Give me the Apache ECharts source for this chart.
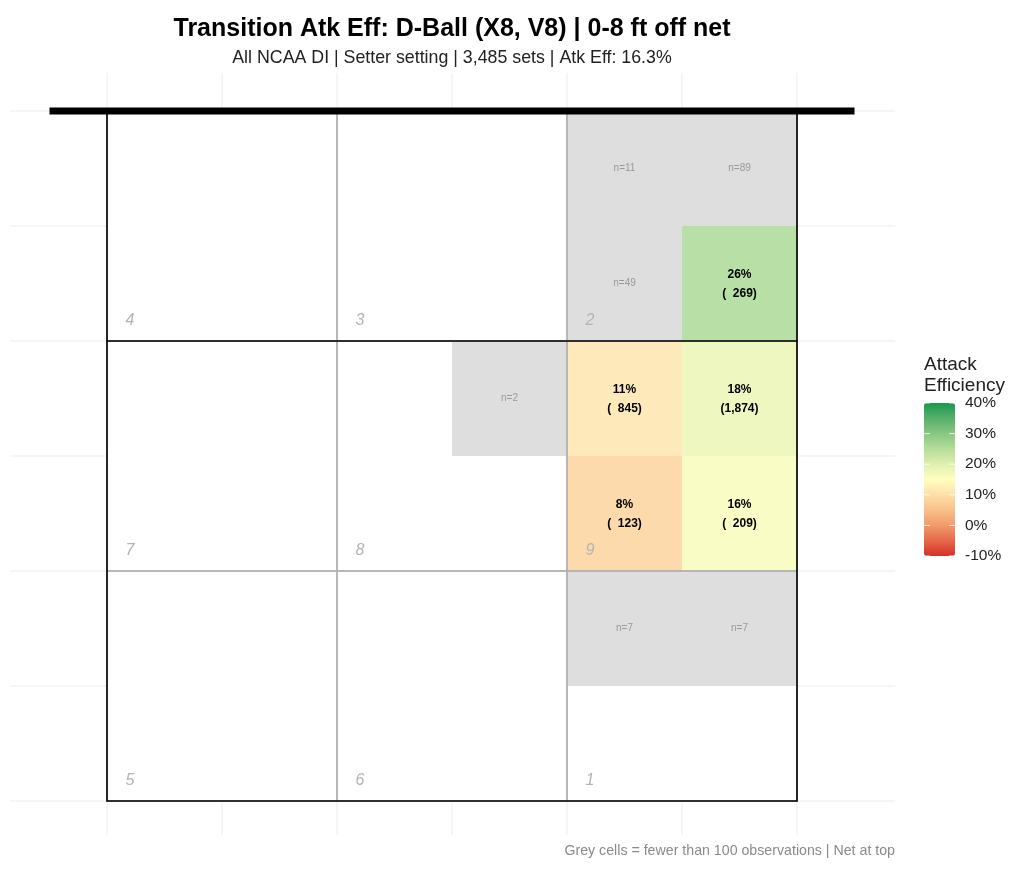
<!DOCTYPE html>
<html>
<head>
<meta charset="utf-8">
<script src="https://cdn.jsdelivr.net/npm/echarts@6/dist/echarts.min.js"></script>
<style>
  html, body { margin: 0; padding: 0; background: #fff; }
  #chart { width: 1024px; height: 875px; }
</style>
</head>
<body>
<div id="chart"></div>
<script>
// court = 6 x 6 cells, row 0 is at the net
const cellCol = [4, 5, 4, 5, 3, 4, 5, 4, 5, 4, 5];
const cellRow = [0, 0, 1, 1, 2, 2, 2, 3, 3, 4, 4];
const cellEff = [null, null, null, 26, null, 11, 18, 8, 16, null, null]; // %
const cellN = [11, 89, 49, 269, 2, 845, 1874, 123, 209, 7, 7];
const minN = 100;

const zoneNames = ['4', '3', '2', '7', '8', '9', '5', '6', '1'];
const zoneCol = [0, 2, 4, 0, 2, 4, 0, 2, 4];
const zoneRow = [0, 0, 0, 2, 2, 2, 4, 4, 4];

const gridBreaks = [0, 1, 2, 3, 4, 5, 6];
const legendTicks = [-10, 0, 10, 20, 30, 40];

const FONT = '"Liberation Sans", Arial, Helvetica, sans-serif';

const greyData = [], effData = [];
cellN.forEach((n, i) => {
  const row = [cellCol[i], cellRow[i], cellEff[i], n];
  if (n < minN) greyData.push(row); else effData.push(row);
});

const fmtN = n => '(' + n.toLocaleString('en-US').padStart(5, ' ') + ')';

function cellRect(api, c, r) {
  const p0 = api.coord([c, r]), p1 = api.coord([c + 1, r + 1]);
  return { x: p0[0], y: p0[1], width: p1[0] - p0[0], height: p1[1] - p0[1] };
}

const chart = echarts.init(document.getElementById('chart'));

chart.setOption({
  backgroundColor: '#fff',
  animation: false,
  grid: [
    { left: 10, right: 129, top: 73, bottom: 40 },
    { left: 924, top: 403, width: 31, height: 153 }
  ],
  xAxis: [
    { type: 'value', min: -97 / 115, max: 788 / 115, show: false },
    { type: 'value', gridIndex: 1, min: 0, max: 1, show: false }
  ],
  yAxis: [
    { type: 'value', inverse: true, min: -38 / 115, max: 724 / 115, show: false },
    {
      type: 'value', gridIndex: 1, min: -10, max: 40, interval: 10, position: 'right',
      axisLine: { show: false }, splitLine: { show: false }, axisTick: { show: false },
      axisLabel: { formatter: '{value}%', fontSize: 15.5, color: '#222', fontFamily: FONT, margin: 10 }
    }
  ],
  visualMap: {
    type: 'continuous', min: -10, max: 40, seriesIndex: 3, dimension: 2,
    orient: 'vertical', left: 924, top: 403, itemWidth: 31, itemHeight: 153,
    padding: 0, calculable: false, hoverLink: false,
    inRange: {
      color: ['#d73027', '#e5684a', '#f19a6a', '#f9c08a', '#fddfa8', '#ffffbf',
              '#dff0b0', '#b5dd9a', '#88c783', '#58b06b', '#1a9850']
    }
  },
  graphic: [
    { type: 'text', x: 452, y: 29, style: { text: 'Transition Atk Eff: D-Ball (X8, V8) | 0-8 ft off net', align: 'center', verticalAlign: 'middle', font: 'bold 25px ' + FONT, fill: '#000' } },
    { type: 'text', x: 452, y: 58, style: { text: 'All NCAA DI | Setter setting | 3,485 sets | Atk Eff: 16.3%', align: 'center', verticalAlign: 'middle', font: '17.8px ' + FONT, fill: '#222' } },
    { type: 'text', x: 924, y: 354, style: { text: 'Attack\nEfficiency', align: 'left', verticalAlign: 'top', font: '19px ' + FONT, lineHeight: 21, fill: '#222' } },
    { type: 'text', x: 895, y: 851, style: { text: 'Grey cells = fewer than 100 observations | Net at top', align: 'right', verticalAlign: 'middle', font: '14.2px ' + FONT, fill: '#8a8a8a' } }
  ],
  series: [
    {
      // panel gridlines at cell boundaries
      type: 'custom', z: 1, silent: true,
      data: gridBreaks.map(b => [b]),
      renderItem: (params, api) => {
        const cs = params.coordSys;
        const b = api.value(0);
        const p = api.coord([b, b]);
        const ls = { stroke: '#ebebeb', lineWidth: 1 };
        return {
          type: 'group', children: [
            { type: 'line', shape: { x1: p[0], y1: cs.y, x2: p[0], y2: cs.y + cs.height }, style: ls },
            { type: 'line', shape: { x1: cs.x, y1: p[1], x2: cs.x + cs.width, y2: p[1] }, style: ls }
          ]
        };
      }
    },
    {
      // court floor
      type: 'custom', z: 2, silent: true,
      data: [[0]],
      renderItem: (params, api) => {
        const a = api.coord([0, 0]), b = api.coord([6, 6]);
        return { type: 'rect', shape: { x: a[0], y: a[1], width: b[0] - a[0], height: b[1] - a[1] }, style: { fill: '#fff' } };
      }
    },
    {
      // low-sample cells
      type: 'custom', z: 3, silent: true,
      data: greyData,
      renderItem: (params, api) => {
        const r = cellRect(api, api.value(0), api.value(1));
        return {
          type: 'group', children: [
            { type: 'rect', shape: r, style: { fill: '#dedede' } },
            { type: 'text', style: { text: 'n=' + api.value(3), x: r.x + r.width / 2, y: r.y + r.height / 2, align: 'center', verticalAlign: 'middle', font: '10px ' + FONT, fill: '#999' } }
          ]
        };
      }
    },
    {
      // attack efficiency cells
      type: 'custom', z: 4, silent: true,
      data: effData,
      renderItem: (params, api) => {
        const r = cellRect(api, api.value(0), api.value(1));
        const txt = Math.round(api.value(2)) + '%\n' + fmtN(api.value(3));
        return {
          type: 'group', children: [
            { type: 'rect', shape: r, style: { fill: api.visual('color'), opacity: 0.85 } },
            { type: 'text', style: { text: txt, x: r.x + r.width / 2, y: r.y + r.height / 2 + 1, align: 'center', verticalAlign: 'middle', font: 'bold 12px ' + FONT, lineHeight: 19, fill: '#000' } }
          ]
        };
      }
    },
    {
      // zones
      type: 'custom', z: 5, silent: true,
      data: zoneNames.map((z, i) => [zoneCol[i], zoneRow[i]]),
      renderItem: (params, api) => {
        const c = api.value(0), rw = api.value(1);
        const p0 = api.coord([c, rw]), p1 = api.coord([c + 2, rw + 2]);
        const lp = api.coord([c + 0.2, rw + 2 - 0.18]);
        return {
          type: 'group', children: [
            { type: 'rect', shape: { x: p0[0], y: p0[1], width: p1[0] - p0[0], height: p1[1] - p0[1] }, style: { fill: 'none', stroke: '#b3b3b3', lineWidth: 1.5 } },
            { type: 'text', style: { text: zoneNames[params.dataIndex], x: lp[0], y: lp[1], align: 'center', verticalAlign: 'middle', font: 'italic 16px ' + FONT, fill: '#b3b3b3' } }
          ]
        };
      }
    },
    {
      // court outline, attack line, net
      type: 'custom', z: 6, silent: true,
      data: [[0]],
      renderItem: (params, api) => {
        const a = api.coord([0, 0]), b = api.coord([6, 6]);
        const atk = api.coord([0, 2]);
        const n0 = api.coord([-0.5, 0]), n1 = api.coord([6.5, 0]);
        return {
          type: 'group', children: [
            { type: 'rect', shape: { x: a[0], y: a[1], width: b[0] - a[0], height: b[1] - a[1] }, style: { fill: 'none', stroke: '#000', lineWidth: 1.6 } },
            { type: 'line', shape: { x1: a[0], y1: atk[1], x2: b[0], y2: atk[1] }, style: { stroke: '#000', lineWidth: 1.6 } },
            { type: 'line', shape: { x1: n0[0], y1: n0[1], x2: n1[0], y2: n1[1] }, style: { stroke: '#000', lineWidth: 7 } }
          ]
        };
      }
    },
    {
      // colourbar ticks
      type: 'custom', z: 10, silent: true, xAxisIndex: 1, yAxisIndex: 1,
      data: legendTicks.map(t => [0, t]),
      renderItem: (params, api) => {
        const l = api.coord([0, api.value(1)]), r = api.coord([1, api.value(1)]);
        const ls = { stroke: 'rgba(255,255,255,0.8)', lineWidth: 1 };
        return {
          type: 'group', children: [
            { type: 'line', shape: { x1: l[0], y1: l[1], x2: l[0] + 6, y2: l[1] }, style: ls },
            { type: 'line', shape: { x1: r[0] - 6, y1: r[1], x2: r[0], y2: r[1] }, style: ls }
          ]
        };
      }
    }
  ]
});
</script>
</body>
</html>
